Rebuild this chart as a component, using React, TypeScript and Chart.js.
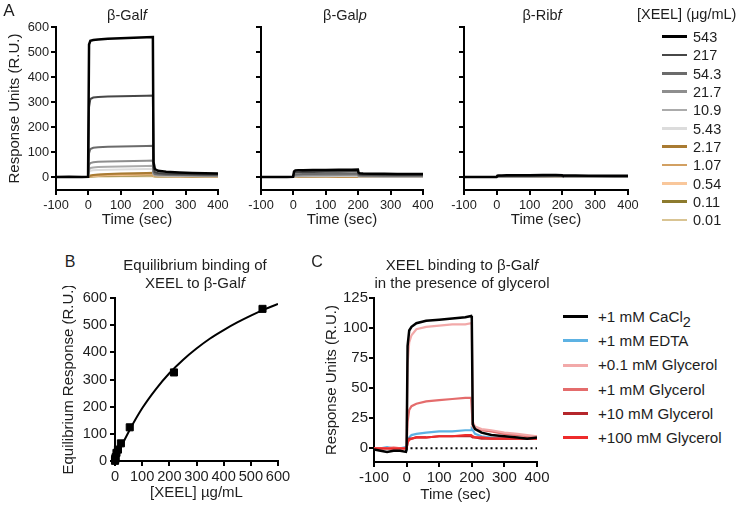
import React, { useEffect, useRef } from "react";
import { Chart, registerables } from "chart.js";
Chart.register(...registerables);

const FONT = '"Liberation Sans", Arial, Helvetica, sans-serif';
const INK = "#1e1e1e";

// ---------- Panel A data ----------
const concLabels = ["543", "217", "54.3", "21.7", "10.9", "5.43", "2.17", "1.07", "0.54", "0.11", "0.01"];
const concColors = ["#000000", "#474747", "#6b6b6b", "#8e8e8e", "#ababab", "#dcdcdc", "#a97b32", "#d2a062", "#f9c79b", "#8d7b2e", "#d9c493"];
const timeA = [-100, -60, -20, -1, 2, 6, 15, 30, 60, 100, 140, 180, 199, 201, 205, 215, 240, 280, 320, 360, 400];
const galfResponses = [
  [0, 1, 0, 1, 530, 545, 548, 550, 553, 555, 557, 559, 560, 60, 32, 25, 21, 18, 16, 15, 14],
  [0, 0, 0, 0, 280, 312, 318, 320, 322, 323, 324, 325, 326, 40, 20, 16, 13, 12, 11, 10, 10],
  [0, 0, 0, 0, 95, 112, 117, 119, 121, 122, 123, 124, 125, 20, 13, 11, 9, 8, 8, 7, 7],
  [0, 0, 0, 0, 48, 56, 59, 61, 62, 63, 64, 65, 66, 16, 10, 9, 8, 7, 6, 6, 5],
  [0, 0, 0, 0, 30, 36, 38, 40, 41, 42, 43, 44, 45, 13, 8, 7, 6, 5, 5, 4, 4],
  [0, 0, 0, 0, 20, 25, 27, 28, 29, 30, 31, 32, 33, 11, 7, 6, 5, 4, 4, 3, 3],
  [0, 0, 0, 0, 4, 6, 8, 10, 12, 14, 15, 16, 17, 9, 6, 5, 4, 4, 3, 3, 3],
  [0, 0, 0, 0, 3, 4, 6, 8, 10, 11, 12, 13, 14, 7, 5, 4, 4, 3, 3, 3, 2],
  [0, 0, 0, 0, 2, 3, 4, 5, 7, 8, 9, 10, 10, 5, 4, 3, 3, 2, 2, 2, 2],
  [0, 0, 0, 0, 1, 2, 3, 4, 5, 6, 6, 7, 7, 4, 3, 2, 2, 2, 1, 1, 1],
  [0, 0, 0, 0, 0, 1, 1, 2, 2, 3, 3, 3, 3, 2, 1, 1, 1, 1, 1, 1, 1],
];
const galpResponses = [
  [0, 0, 0, 1, 22, 26, 27, 27, 28, 28, 29, 29, 30, 18, 15, 14, 13, 13, 12, 12, 12],
  [0, 0, 0, 0, 15, 18, 19, 20, 20, 21, 21, 22, 22, 12, 10, 9, 9, 8, 8, 8, 8],
  [0, 0, 0, 0, 8, 10, 11, 12, 12, 13, 13, 13, 14, 8, 7, 6, 6, 5, 5, 5, 5],
  [0, 0, 0, 0, 5, 6, 7, 7, 8, 8, 8, 9, 9, 5, 4, 4, 4, 3, 3, 3, 3],
  [0, 0, 0, 0, 3, 4, 4, 5, 5, 5, 6, 6, 6, 3, 3, 3, 2, 2, 2, 2, 2],
  [0, 0, 0, 0, 2, 2, 3, 3, 3, 3, 4, 4, 4, 2, 2, 2, 2, 1, 1, 1, 1],
  [0, 0, 0, 0, 0, 1, 1, 1, 1, 2, 2, 2, 2, 2, 2, 2, 2, 2, 2, 2, 2],
  [0, 0, 0, 0, 0, 0, 1, 1, 1, 1, 1, 2, 2, 1, 1, 1, 1, 1, 1, 1, 1],
  [0, 0, 0, 0, 0, 0, 0, 1, 1, 1, 1, 1, 1, 1, 1, 1, 1, 1, 1, 1, 1],
  [0, 0, 0, 0, 0, 0, 0, 0, 1, 1, 1, 1, 1, 1, 1, 1, 1, 1, 1, 1, 1],
  [0, 0, 0, 0, 0, 0, 0, 0, 0, 0, 1, 1, 1, 1, 1, 1, 1, 0, 0, 0, 0],
];
const ribfResponses = [
  [0, 0, 0, 0, 5, 6, 6, 7, 7, 7, 8, 8, 7, 6, 6, 6, 6, 5, 5, 5, 5],
  [0, 0, 0, 0, 3, 4, 4, 4, 5, 5, 5, 5, 5, 4, 4, 4, 4, 4, 4, 3, 3],
  [0, 0, 0, 0, 2, 3, 3, 3, 3, 3, 3, 4, 4, 3, 3, 3, 3, 3, 2, 2, 2],
  [0, 0, 0, 0, 1, 2, 2, 2, 2, 2, 3, 3, 3, 2, 2, 2, 2, 2, 2, 2, 2],
  [0, 0, 0, 0, 1, 1, 1, 2, 2, 2, 2, 2, 2, 2, 2, 2, 2, 1, 1, 1, 1],
  [0, 0, 0, 0, 1, 1, 1, 1, 1, 1, 2, 2, 2, 1, 1, 1, 1, 1, 1, 1, 1],
  [0, 0, 0, 0, 0, 1, 1, 1, 2, 2, 2, 2, 2, 2, 2, 2, 1, 1, 1, 1, 1],
  [0, 0, 0, 0, 0, 0, 1, 1, 1, 1, 1, 1, 1, 1, 1, 1, 1, 1, 1, 1, 1],
  [0, 0, 0, 0, 0, 0, 0, 1, 1, 1, 1, 1, 1, 1, 1, 1, 1, 1, 1, 1, 1],
  [0, 0, 0, 0, 0, 0, 0, 0, 1, 1, 1, 1, 1, 1, 1, 1, 1, 1, 0, 0, 0],
  [0, 0, 0, 0, 0, 0, 0, 0, 0, 0, 0, 1, 1, 1, 0, 0, 0, 0, 0, 0, 0],
];
const ticksAX = [-100, 0, 100, 200, 300, 400];
const ticksAY = [0, 100, 200, 300, 400, 500, 600];

// ---------- Panel B data ----------
const eqConc = [543, 217, 54.3, 21.7, 10.9, 5.43, 2.17, 1.07, 0.54, 0.11, 0.01];
const eqResp = [560, 326, 124, 65, 42, 30, 14, 8, 5, 2, 1];
const fitConc = [0, 10, 25, 50, 100, 150, 200, 250, 300, 350, 400, 450, 500, 550, 600];
const fitResp = [0, 24, 57, 107, 194, 264, 323, 372, 414, 451, 482, 510, 535, 558, 578];
const ticksB = [0, 100, 200, 300, 400, 500, 600];

// ---------- Panel C data ----------
const conditionLabels = ["+1 mM CaCl2", "+1 mM EDTA", "+0.1 mM Glycerol", "+1 mM Glycerol", "+10 mM Glycerol", "+100 mM Glycerol"];
const conditionColors = ["#000000", "#5db2e3", "#f2a9a9", "#e46c6c", "#b5262b", "#ee2b2b"];
const timeC = [-100, -80, -60, -40, -20, -2, 0, 3, 8, 15, 30, 60, 100, 140, 180, 198, 200, 203, 210, 230, 260, 300, 340, 370, 400];
const cacl2Resp = [-1, -2, -3, -2, -2, -3, -1, 85, 98, 101, 104, 106, 107, 108, 109, 110, 108, 20, 16, 13, 11, 10, 9, 8, 9];
const edtaResp = [-1, 0, 1, 0, 0, 1, 0, 6, 9, 11, 12, 13, 14, 14, 15, 15, 16, 15, 12, 10, 9, 8, 8, 8, 8];
const glyc01Resp = [0, 0, 0, 1, 0, 0, 1, 70, 88, 94, 99, 101, 102, 103, 103, 104, 103, 22, 18, 16, 15, 13, 12, 11, 10];
const glyc1Resp = [0, 0, 0, 0, 0, 0, 1, 22, 32, 35, 37, 39, 40, 41, 42, 42, 42, 18, 16, 15, 14, 12, 11, 10, 10];
const glyc10Resp = [0, 0, 0, 0, 0, 0, 0, 5, 8, 8, 9, 9, 10, 10, 10, 10, 10, 9, 9, 8, 8, 8, 8, 8, 8];
const glyc100Resp = [0, 0, 0, 0, 0, 0, 0, 5, 7, 8, 9, 9, 10, 10, 11, 11, 11, 10, 9, 9, 8, 8, 8, 8, 8];
const zeroLineTime = [12, 400];
const zeroLineResp = [0, 0];
const ticksCX = [-100, 0, 100, 200, 300, 400];
const ticksCY = [0, 25, 50, 75, 100, 125];

type Box = { x: number; y: number; w: number; h: number; mL: number; mT: number; mR: number; mB: number };

function pts(xs: number[], ys: number[]) {
  return xs.map((x, i) => ({ x, y: ys[i] }));
}

function axis(opts: {
  min: number; max: number; ticks: number[]; size: number; showLabels: boolean;
  title?: string; titlePad?: number; fit: (s: any) => void; vertical: boolean; pad: number;
}) {
  return {
    type: "linear",
    min: opts.min,
    max: opts.max,
    afterBuildTicks: (s: any) => { s.ticks = opts.ticks.map((v) => ({ value: v })); },
    afterFit: opts.fit,
    border: { display: true, color: "#000", width: 2 },
    grid: { display: true, drawOnChartArea: false, drawTicks: true, tickLength: 5, color: "#000", tickColor: "#000", lineWidth: 2, tickWidth: 2 },
    ticks: {
      color: INK,
      font: { family: FONT, size: opts.size, weight: "normal" },
      padding: opts.pad,
      maxRotation: 0,
      autoSkip: false,
      callback: (v: any) => (opts.showLabels ? String(v) : ""),
    },
    title: opts.title
      ? {
          display: true,
          text: opts.title,
          color: INK,
          font: { family: FONT, size: 15, weight: "normal" },
          padding: opts.vertical ? { top: opts.titlePad ?? 0, bottom: 0 } : { top: 0, bottom: opts.titlePad ?? 0 },
        }
      : { display: false },
  };
}

function makeConfig(box: Box, datasets: any[], sc: {
  xMin: number; xMax: number; yMin: number; yMax: number; xTicks: number[]; yTicks: number[];
  size: number; yLabels: boolean; yTitle?: string; yTitlePad?: number; xTitle?: string; xTitlePad?: number; yPad: number; xPad: number;
}) {
  return {
    type: "line",
    data: { datasets },
    options: {
      animation: false,
      responsive: false,
      maintainAspectRatio: false,
      devicePixelRatio: 1,
      events: [],
      layout: { padding: { top: box.mT, right: box.mR, left: 0, bottom: 0 } },
      plugins: { legend: { display: false }, tooltip: { enabled: false }, title: { display: false } },
      scales: {
        x: axis({ min: sc.xMin, max: sc.xMax, ticks: sc.xTicks, size: sc.size, showLabels: true, title: sc.xTitle, titlePad: sc.xTitlePad, fit: (s: any) => { s.height = box.mB; }, vertical: false, pad: sc.xPad }),
        y: axis({ min: sc.yMin, max: sc.yMax, ticks: sc.yTicks, size: sc.size, showLabels: sc.yLabels, title: sc.yTitle, titlePad: sc.yTitlePad, fit: (s: any) => { s.width = box.mL; }, vertical: true, pad: sc.yPad }),
      },
    },
  };
}

function ChartBox({ box, build }: { box: Box; build: () => any }) {
  const ref = useRef<HTMLCanvasElement>(null);
  useEffect(() => {
    const chart = new Chart(ref.current as HTMLCanvasElement, build());
    return () => chart.destroy();
  }, []);
  const w = box.mL + box.w + box.mR;
  const h = box.mT + box.h + box.mB;
  return (
    <canvas
      ref={ref}
      width={w}
      height={h}
      style={{ position: "absolute", left: box.x - box.mL, top: box.y - box.mT, width: w, height: h }}
    />
  );
}

function Txt({ x, y, size, children, anchor = "center" }: { x: number; y: number; size: number; children: any; anchor?: "center" | "left" }) {
  return (
    <div
      style={{
        position: "absolute",
        left: x,
        top: y,
        transform: anchor === "center" ? "translate(-50%, -50%)" : "translate(0, -50%)",
        fontSize: size,
        lineHeight: 1.15,
        whiteSpace: "nowrap",
        color: INK,
        fontFamily: FONT,
      }}
    >
      {children}
    </div>
  );
}

const boxA1: Box = { x: 56, y: 27, w: 162, h: 163, mL: 56, mT: 12, mR: 16, mB: 44 };
const boxA2: Box = { x: 261, y: 27, w: 162, h: 163, mL: 40, mT: 12, mR: 16, mB: 44 };
const boxA3: Box = { x: 464, y: 27, w: 164, h: 163, mL: 40, mT: 12, mR: 16, mB: 44 };
const boxB: Box = { x: 115, y: 298, w: 163, h: 163, mL: 60, mT: 12, mR: 16, mB: 46 };
const boxC: Box = { x: 374, y: 298, w: 163, h: 164, mL: 56, mT: 12, mR: 16, mB: 46 };

function sensorDatasets(responses: number[][]) {
  return responses.map((r, i) => ({
    data: pts(timeA, r),
    borderColor: concColors[i],
    borderWidth: i === 0 ? 2.5 : 2,
    pointRadius: 0,
    fill: false,
    tension: 0,
  }));
}

function panelA(box: Box, responses: number[][], first: boolean) {
  return () =>
    makeConfig(box, sensorDatasets(responses), {
      xMin: -100, xMax: 400, yMin: -52, yMax: 600, xTicks: ticksAX, yTicks: ticksAY, size: 12.8,
      yLabels: first,
      yTitle: first ? "Response Units (R.U.)" : undefined,
      yTitlePad: 6,
      xTitle: "Time (sec)",
      xTitlePad: 5,
      yPad: 2,
      xPad: 3,
    });
}

function buildB() {
  const datasets = [
    {
      data: pts(eqConc, eqResp),
      showLine: false,
      borderColor: "#000",
      backgroundColor: "#000",
      pointStyle: "rect",
      pointRadius: 5,
      clip: false,
    },
    {
      data: pts(fitConc, fitResp),
      borderColor: "#000",
      borderWidth: 2,
      pointRadius: 0,
      cubicInterpolationMode: "monotone",
      fill: false,
    },
  ];
  return makeConfig(boxB, datasets, {
    xMin: 0, xMax: 600, yMin: 0, yMax: 600, xTicks: ticksB, yTicks: ticksB, size: 14.6,
    yLabels: true, yTitle: "Equilibrium Response (R.U.)", yTitlePad: 5, xTitle: "[XEEL] µg/mL", xTitlePad: 5, yPad: 3, xPad: 2,
  });
}

function buildC() {
  const series = [cacl2Resp, edtaResp, glyc01Resp, glyc1Resp, glyc10Resp, glyc100Resp];
  const drawOrder = [0, 5, 2, 3, 4, 1];
  const datasets: any[] = series.map((r, i) => ({
    data: pts(timeC, r),
    borderColor: conditionColors[i],
    borderWidth: i === 0 ? 2.5 : 2.2,
    pointRadius: 0,
    fill: false,
    tension: 0,
    order: drawOrder[i] + 1,
  }));
  datasets.push({
    data: pts(zeroLineTime, zeroLineResp),
    borderColor: "#000",
    borderWidth: 2,
    borderDash: [2, 3],
    pointRadius: 0,
    fill: false,
    order: 0,
  });
  return makeConfig(boxC, datasets, {
    xMin: -100, xMax: 400, yMin: -11.4, yMax: 125, xTicks: ticksCX, yTicks: ticksCY, size: 15,
    yLabels: true, yTitle: "Response Units (R.U.)", yTitlePad: 5, xTitle: "Time (sec)", xTitlePad: 4, yPad: 1, xPad: 2,
  });
}

function renderCondition(label: string) {
  if (label.endsWith("CaCl2")) {
    return (
      <>
        {label.slice(0, -1)}
        <sub style={{ fontSize: "0.95em", verticalAlign: "-0.3em", lineHeight: 0 }}>2</sub>
      </>
    );
  }
  return label;
}

export default function App() {
  return (
    <div
      style={{
        position: "fixed",
        left: 0,
        top: 0,
        width: 745,
        height: 506,
        background: "#fff",
        overflow: "hidden",
        fontFamily: FONT,
      }}
    >
      <ChartBox box={boxA1} build={panelA(boxA1, galfResponses, true)} />
      <ChartBox box={boxA2} build={panelA(boxA2, galpResponses, false)} />
      <ChartBox box={boxA3} build={panelA(boxA3, ribfResponses, false)} />
      <ChartBox box={boxB} build={buildB} />
      <ChartBox box={boxC} build={buildC} />

      {/* Panel letters */}
      <Txt x={9} y={11} size={17}>A</Txt>
      <Txt x={70} y={262} size={16}>B</Txt>
      <Txt x={317} y={262} size={16}>C</Txt>

      {/* Panel A titles */}
      <Txt x={127} y={15} size={14.5}>β-Gal<i>f</i></Txt>
      <Txt x={345} y={15} size={14.5}>β-Gal<i>p</i></Txt>
      <Txt x={542} y={15} size={14.5}>β-Rib<i>f</i></Txt>

      {/* Panel A legend */}
      <Txt x={637} y={13.5} size={14.5} anchor="left">[XEEL]&nbsp;(μg/mL)</Txt>
      {concLabels.map((c, i) => (
        <React.Fragment key={c}>
          <div
            style={{
              position: "absolute",
              left: 662,
              top: 36.7 + i * 18.33 - 1.25,
              width: 25,
              height: 2.5,
              background: concColors[i],
            }}
          />
          <Txt x={693} y={37 + i * 18.33} size={14.5} anchor="left">{c}</Txt>
        </React.Fragment>
      ))}

      {/* Panel B title */}
      <Txt x={195} y={265} size={15}>Equilibrium binding of</Txt>
      <Txt x={195} y={283} size={15}>XEEL to β-Gal<i>f</i></Txt>

      {/* Panel C title */}
      <Txt x={462} y={265} size={15}>XEEL binding to β-Gal<i>f</i></Txt>
      <Txt x={462} y={283} size={15}>in the presence of glycerol</Txt>

      {/* Panel C legend */}
      {conditionLabels.map((c, i) => (
        <React.Fragment key={c}>
          <div
            style={{
              position: "absolute",
              left: 563,
              top: 316.7 + i * 24.2 - 1.5,
              width: 25,
              height: 3,
              background: conditionColors[i],
            }}
          />
          <Txt x={598} y={317 + i * 24.2} size={15.2} anchor="left">{renderCondition(c)}</Txt>
        </React.Fragment>
      ))}
    </div>
  );
}
